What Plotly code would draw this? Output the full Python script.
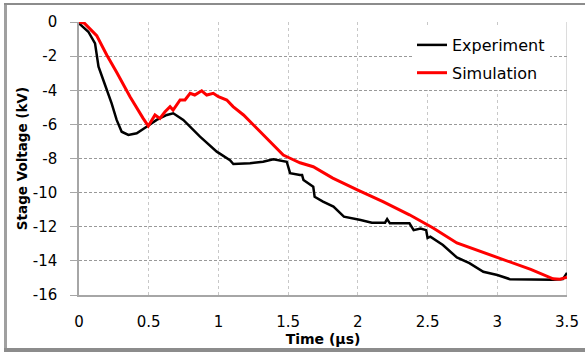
import plotly.graph_objects as go

# Experiment (black)
exp_t = [0.0, 0.067, 0.115, 0.14, 0.187, 0.234, 0.27, 0.306, 0.354, 0.414, 0.485, 0.557, 0.63, 0.676,
         0.748, 0.868, 0.988, 1.083, 1.107, 1.227, 1.32, 1.394, 1.49, 1.514, 1.585, 1.60, 1.61, 1.68,
         1.69, 1.75, 1.825, 1.9, 2.02, 2.1, 2.195, 2.21, 2.23, 2.37, 2.40, 2.45, 2.49, 2.50, 2.52, 2.61,
         2.71, 2.80, 2.90, 3.0, 3.09, 3.24, 3.4, 3.47, 3.5]
exp_v = [-0.08, -0.57, -1.25, -2.62, -3.69, -4.77, -5.74, -6.43, -6.62, -6.52, -6.14, -5.74, -5.45, -5.35,
         -5.74, -6.72, -7.6, -8.1, -8.32, -8.28, -8.19, -8.05, -8.19, -8.86, -8.97, -8.97, -9.26, -9.65,
         -10.24, -10.53, -10.82, -11.41, -11.6, -11.76, -11.76, -11.55, -11.8, -11.8, -12.2, -12.1, -12.2,
         -12.66, -12.58, -13.07, -13.8, -14.13, -14.64, -14.83, -15.07, -15.1, -15.1, -15.07, -14.7]

# Simulation (red)
sim_t = [0.0, 0.04, 0.127, 0.2, 0.27, 0.366, 0.46, 0.497, 0.545, 0.58, 0.617, 0.653, 0.675, 0.725,
         0.76, 0.797, 0.83, 0.88, 0.916, 0.963, 1.0, 1.06, 1.105, 1.18, 1.275, 1.37, 1.465, 1.51,
         1.585, 1.68, 1.82, 2.0, 2.18, 2.37, 2.54, 2.71, 3.0, 3.24, 3.4, 3.45, 3.5]
sim_v = [0.0, -0.08, -0.8, -1.95, -2.95, -4.38, -5.65, -6.1, -5.45, -5.65, -5.26, -4.96, -5.16, -4.57,
         -4.57, -4.18, -4.28, -4.03, -4.28, -4.18, -4.38, -4.57, -4.96, -5.45, -6.23, -7.02, -7.8, -7.97,
         -8.25, -8.48, -9.15, -9.85, -10.53, -11.3, -12.07, -12.95, -13.8, -14.5, -15.05, -15.07, -14.95]

x_ticks = [0, 0.5, 1, 1.5, 2, 2.5, 3, 3.5]
x_labels = ["0", "0.5", "1", "1.5", "2", "2.5", "3", "3.5"]
y_ticks = [0, -2, -4, -6, -8, -10, -12, -14, -16]
y_labels = ["0", "-2", "-4", "-6", "-8", "-10", "-12", "-14", "-16"]

FONT = "DejaVu Sans"

fig = go.Figure()
fig.add_trace(go.Scatter(x=exp_t, y=exp_v, mode="lines", name="Experiment",
                         line=dict(color="black", width=2.5), legendgroup="a"))
fig.add_trace(go.Scatter(x=sim_t, y=sim_v, mode="lines", name="Simulation",
                         line=dict(color="#ff0000", width=3), legendgroup="b"))

L, R, T, B = 79, 18, 22, 59
W, H = 585, 354
pw, ph = W - L - R, H - T - B

def px(xp):
    return (xp - L) / pw

def py(yp):
    return (H - B - yp) / ph

fig.update_layout(
    width=W, height=H,
    margin=dict(l=L, r=R, t=T, b=B, autoexpand=False),
    paper_bgcolor="white", plot_bgcolor="white",
    font=dict(family=FONT, color="black", size=15),
    showlegend=True,
    legend=dict(x=px(412), y=py(28), xanchor="left", yanchor="top",
                bgcolor="white", font=dict(size=16, family=FONT),
                tracegroupgap=4, itemwidth=30),
    xaxis=dict(range=[0, 3.5], tickvals=x_ticks, ticktext=x_labels, automargin=False,
               showgrid=True, gridcolor="#c8c8c8", griddash="dot", gridwidth=1,
               showline=True, linecolor="#a6a6a6", linewidth=1.5, mirror=False,
               zeroline=False, ticks="", ticklabelstandoff=12,
               tickfont=dict(size=15, family=FONT),
               title=dict(text="<b>Time (µs)</b>", font=dict(size=14, family=FONT), standoff=4)),
    yaxis=dict(range=[-16, 0], tickvals=y_ticks, ticktext=y_labels, automargin=False,
               showgrid=True, gridcolor="#999999", griddash="3px,2px", gridwidth=1,
               showline=True, linecolor="#a6a6a6", linewidth=1.5,
               zeroline=False, ticks="outside", ticklen=7, tickcolor="#a6a6a6",
               ticklabelstandoff=10,
               tickfont=dict(size=15, family=FONT),
               title=dict(text="<b>Stage Voltage (kV)</b>", font=dict(size=13.5, family=FONT), standoff=2)),
)

# right-hand boundary line at x=3.5
fig.add_shape(type="line", xref="x", yref="paper", x0=3.5, x1=3.5, y0=0, y1=1,
              line=dict(color="#d0d0d0", width=1.5), layer="below")

# outer frame (chart area border)
fig.add_shape(type="line", xref="paper", yref="paper", x0=px(5.5), x1=px(5.5), y0=py(3), y1=py(351),
              line=dict(color="#a0a0a0", width=3))
fig.add_shape(type="line", xref="paper", yref="paper", x0=px(4), x1=px(590), y0=py(4), y1=py(4),
              line=dict(color="#8c8c8c", width=2))
fig.add_shape(type="line", xref="paper", yref="paper", x0=px(4), x1=px(590), y0=py(350), y1=py(350),
              line=dict(color="#8c8c8c", width=4))

fig.write_html("out.html", config={"displayModeBar": False},
               post_script="document.body.style.margin='0';document.body.style.padding='0';")
